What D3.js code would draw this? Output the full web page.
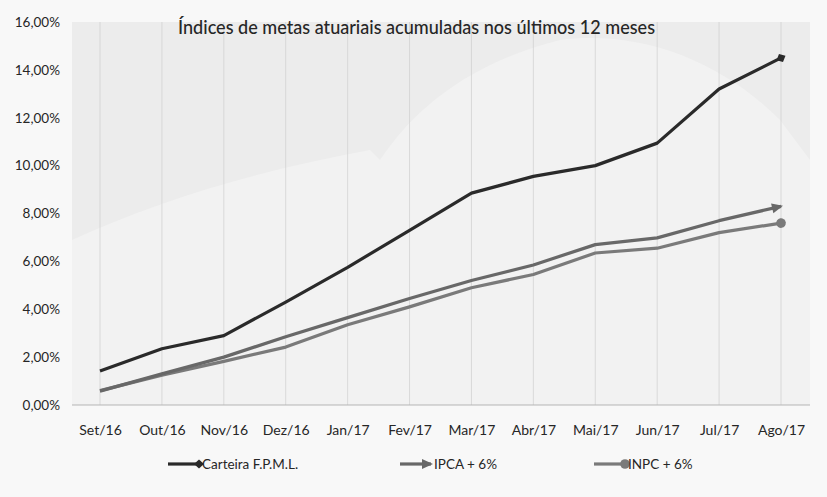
<!DOCTYPE html>
<html><head><meta charset="utf-8">
<script src="https://cdn.jsdelivr.net/npm/d3@7"></script>
<style>
body{margin:0;background:#f6f6f6;}
svg{display:block;}
text{font-family:Lato,"Open Sans",sans-serif;fill:#262626;}
</style></head>
<body><svg id="c" width="827" height="497"></svg>
<script>
const categories = ["Set/16","Out/16","Nov/16","Dez/16","Jan/17","Fev/17","Mar/17","Abr/17","Mai/17","Jun/17","Jul/17","Ago/17"];
const carteira = [1.42,2.35,2.9,4.3,5.75,7.3,8.85,9.55,10.0,10.94,13.2,14.5];
const ipca = [0.58,1.3,2.0,2.85,3.65,4.45,5.2,5.85,6.7,6.98,7.7,8.3];
const inpc = [0.6,1.25,1.82,2.42,3.35,4.1,4.9,5.45,6.35,6.55,7.2,7.6];
const yTicks = [0,2,4,6,8,10,12,14,16];
const seriesNames = ["Carteira F.P.M.L.","IPCA + 6%","INPC + 6%"];
const seriesColors = ["#2a2a2a","#686868","#7a7a7a"];
const title = "Índices de metas atuariais acumuladas nos últimos 12 meses";

const svg = d3.select("#c");
const W = 827, H = 497;
const plot = {left:72, right:810, top:22, bottom:405};

svg.append("rect").attr("x",0).attr("y",0).attr("width",W).attr("height",H).attr("fill","#f8f8f8");
svg.append("rect").attr("x",plot.left).attr("y",plot.top).attr("width",plot.right-plot.left).attr("height",plot.bottom-plot.top).attr("fill","#ececec");
// faint watermark shapes
svg.append("path")
  .attr("d","M72,240 C160,200 260,170 370,150 L380,160 C420,100 480,60 560,40 C640,30 720,60 780,120 L810,160 L810,405 L72,405 Z")
  .attr("fill","#f2f2f2");

const x = d3.scalePoint().domain(categories).range([100,781]);
const y = d3.scaleLinear().domain([0,16]).range([plot.bottom, plot.top]);

svg.append("g").selectAll("line").data(categories).join("line")
  .attr("x1",d=>x(d)).attr("x2",d=>x(d)).attr("y1",y(16)).attr("y2",plot.bottom)
  .attr("stroke","#cfcfcf").attr("stroke-width",0.7);
svg.append("line").attr("x1",plot.left).attr("x2",plot.right).attr("y1",plot.bottom).attr("y2",plot.bottom)
  .attr("stroke","#b5b5b5").attr("stroke-width",1);

const yAxis = d3.axisLeft(y).tickValues(yTicks).tickSize(0).tickPadding(0)
  .tickFormat(d=>d3.format(".2f")(d).replace(".",",")+"%");
const gy = svg.append("g").attr("transform","translate(60,0)").call(yAxis);
gy.select(".domain").remove();
gy.selectAll("text").style("font-size","13.5px").attr("fill","#262626");

const xAxis = d3.axisBottom(x).tickSize(0).tickPadding(0);
const gx = svg.append("g").attr("transform","translate(0,425)").call(xAxis);
gx.select(".domain").remove();
gx.selectAll("text").style("font-size","14px").attr("fill","#262626");

const defs = svg.append("defs");
function mk(id, color, type){
  const m = defs.append("marker").attr("id",id).attr("markerUnits","userSpaceOnUse")
    .attr("orient","auto").attr("overflow","visible")
    .attr("viewBox","-10 -6 14 12").attr("markerWidth",14).attr("markerHeight",12).attr("refX",0).attr("refY",0);
  if(type==="diamond"){
    m.append("path").attr("d","M-5,0 L0,-4.5 L5,0 L0,4.5 Z").attr("fill",color);
  } else if(type==="arrow"){
    m.append("path").attr("d","M-9,-5 L2,0 L-9,5 Z").attr("fill",color);
  } else {
    m.append("circle").attr("r",4.8).attr("fill",color);
  }
}
mk("mDia",seriesColors[0],"diamond");
mk("mArr",seriesColors[1],"arrow");
mk("mCir",seriesColors[2],"circle");
const markerIds = ["mDia","mArr","mCir"];

const line = d3.line().x((d,i)=>x(categories[i])).y(d=>y(d));
const allSeries = [inpc, ipca, carteira];
const order = [2,1,0];
allSeries.forEach((s,k)=>{
  const idx = order[k];
  svg.append("path").datum(s).attr("d",line).attr("fill","none")
    .attr("stroke",seriesColors[idx]).attr("stroke-width",3.2).attr("stroke-linejoin","round")
    .attr("marker-end",`url(#${markerIds[idx]})`);
});

svg.append("text").attr("x",178).attr("y",34)
  .attr("textLength",477).attr("lengthAdjust","spacingAndGlyphs")
  .style("font-size","20px").style("font-weight","500").text(title);

const legX = [168,400,594];
const legY = 464;
seriesNames.forEach((n,i)=>{
  svg.append("line").attr("x1",legX[i]).attr("x2",legX[i]+31).attr("y1",legY).attr("y2",legY)
    .attr("stroke",seriesColors[i]).attr("stroke-width",3.2).attr("marker-end",`url(#${markerIds[i]})`);
  svg.append("text").attr("x",legX[i]+34).attr("y",legY+5).style("font-size","13.5px").text(n);
});
</script></body></html>
